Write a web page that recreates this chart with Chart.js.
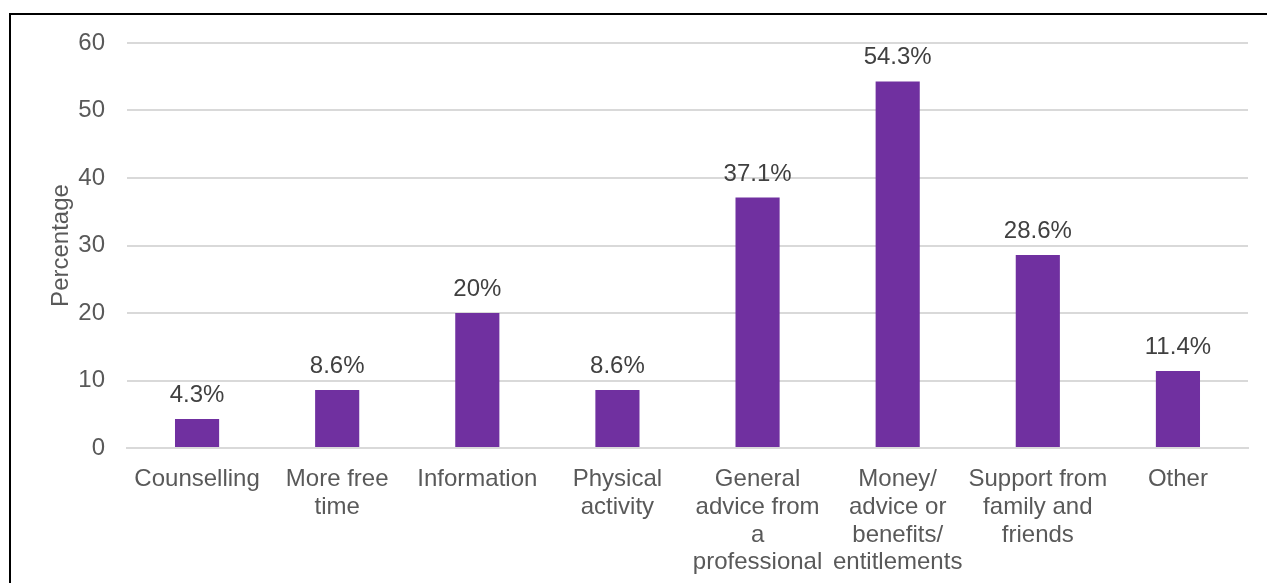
<!DOCTYPE html>
<html>
<head>
<meta charset="utf-8">
<script src="https://cdn.jsdelivr.net/npm/chart.js@4"></script>
<style>
  body { margin: 0; background: #fff; }
  #wrap { position: relative; width: 1267px; height: 583px; overflow: hidden; }
  #frame { position: absolute; left: 9px; top: 13px; width: 1400px; height: 700px; border: 2px solid #000; }
  canvas { position: absolute; left: 0; top: 0; }
</style>
</head>
<body>
<div id="wrap">
  <div id="frame"></div>
  <canvas id="supportChart" width="1267" height="583"></canvas>
</div>
<script>
// categories (multi-line like the original)
var categories = [
  'Counselling',
  ['More free', 'time'],
  'Information',
  ['Physical', 'activity'],
  ['General', 'advice from', 'a', 'professional'],
  ['Money/', 'advice or', 'benefits/', 'entitlements'],
  ['Support from', 'family and', 'friends'],
  'Other'
];
var percentages = [4.3, 8.6, 20, 8.6, 37.1, 54.3, 28.6, 11.4];
var yTicks = [0, 10, 20, 30, 40, 50, 60];

var fontFamily = '"Liberation Sans", Arial, sans-serif';

//draws the % labels above each bar
var barLabels = {
  id: 'barLabels',
  afterDatasetsDraw: function(chart) {
    var ctx = chart.ctx;
    var meta = chart.getDatasetMeta(0);
    ctx.save();
    ctx.font = '24px ' + fontFamily;
    ctx.fillStyle = '#404040';
    ctx.textAlign = 'center';
    ctx.textBaseline = 'alphabetic';
    meta.data.forEach(function(bar, i) {
      ctx.fillText(percentages[i] + '%', bar.x, bar.y - 17);
    });
    ctx.restore();
  }
};

var ctx = document.getElementById('supportChart').getContext('2d');

var supportChart = new Chart(ctx, {
  type: 'bar',
  data: {
    labels: categories,
    datasets: [{
      label: 'Percentage',
      data: percentages,
      backgroundColor: '#7030A0',
      barPercentage: 0.63,
      categoryPercentage: 0.5
    }]
  },
  options: {
    responsive: false,
    animation: false,
    layout: { padding: { top: 43, right: 19, left: 0, bottom: 0 } },
    plugins: {
      legend: { display: false },
      tooltip: { enabled: false }
    },
    scales: {
      x: {
        grid: { display: false },
        border: { color: '#d9d9d9', width: 2 },
        ticks: {
          color: '#595959',
          font: { family: fontFamily, size: 24, lineHeight: 1.15 },
          maxRotation: 0,
          autoSkip: false,
          padding: 10
        },
        afterFit: function(scale) { scale.height = 135; }
      },
      y: {
        min: 0,
        max: 60,
        afterBuildTicks: function(scale) {
          scale.ticks = yTicks.map(function(v) { return { value: v }; });
        },
        grid: { color: '#d9d9d9', lineWidth: 2, drawTicks: false },
        border: { display: false },
        ticks: {
          color: '#595959',
          font: { family: fontFamily, size: 24 },
          padding: 22
        },
        title: {
          display: true,
          text: 'Percentage',
          color: '#595959',
          font: { family: fontFamily, size: 24 },
          padding: { top: 47, bottom: 4 }
        },
        afterFit: function(scale) { scale.width = 127; }
      }
    }
  },
  plugins: [barLabels]
});
</script>
</body>
</html>
